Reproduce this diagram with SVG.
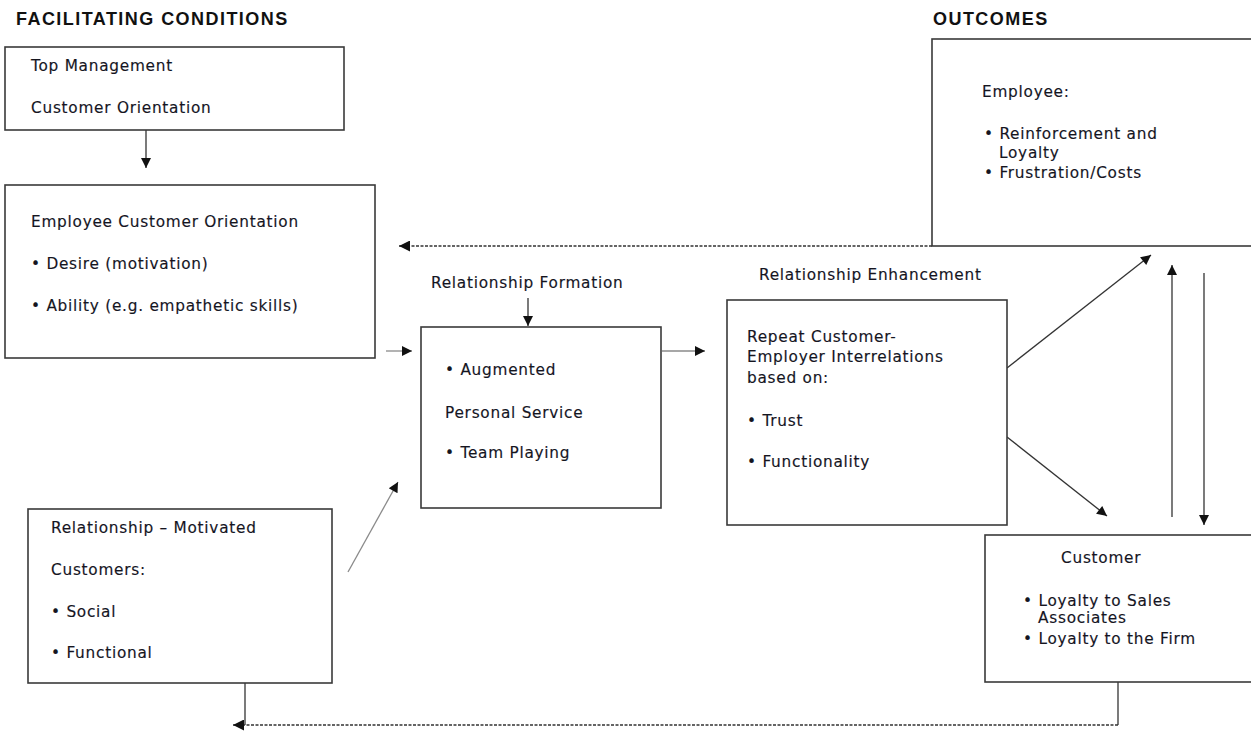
<svg xmlns="http://www.w3.org/2000/svg" width="1251" height="732" viewBox="0 0 1251 732">
  <style>
    .box { fill: #ffffff; stroke: #3a3a3a; stroke-width: 1.6; }
    .t { font-family: "DejaVu Sans", "Liberation Sans", sans-serif; font-size: 15.3px; letter-spacing: 0.75px; fill: #15151f; stroke: #15151f; stroke-width: 0.15; }
    .h { font-family: "Liberation Sans", Arial, sans-serif; font-size: 18px; font-weight: bold; letter-spacing: 1.45px; fill: #111111; }
    .ln { fill: none; stroke: #333333; stroke-width: 1.3; }
    .lg { fill: none; stroke: #8a8a8a; stroke-width: 1.3; }
    .dash { fill: none; stroke: #333333; stroke-width: 1.3; stroke-dasharray: 3 1.5; }
  </style>
  <defs>
    <marker id="head" viewBox="0 0 10 10" refX="10" refY="5" markerWidth="13" markerHeight="10" markerUnits="userSpaceOnUse" orient="auto">
      <path d="M0,0 L10,5 L0,10 Z" fill="#111111"/>
    </marker>
    <marker id="headL" viewBox="0 0 10 10" refX="10" refY="5" markerWidth="14" markerHeight="11" markerUnits="userSpaceOnUse" orient="auto">
      <path d="M0,0 L10,5 L0,10 Z" fill="#111111"/>
    </marker>
  </defs>

  <rect width="1251" height="732" fill="#ffffff"/>

  <!-- section headings -->
  <text class="h" x="16" y="25">FACILITATING CONDITIONS</text>
  <text class="h" x="933" y="25">OUTCOMES</text>

  <!-- connectors -->
  <g id="connectors">
    <line class="ln" x1="146" y1="130" x2="146" y2="168" marker-end="url(#head)"/>
    <line class="lg" x1="386" y1="351" x2="412" y2="351" marker-end="url(#head)"/>
    <line class="ln" x1="528" y1="298" x2="528" y2="326" marker-end="url(#head)"/>
    <line class="lg" x1="662" y1="351" x2="705" y2="351" marker-end="url(#head)"/>
    <line class="lg" x1="348" y1="572" x2="398" y2="482" marker-end="url(#head)"/>
    <line class="ln" x1="1007" y1="368" x2="1151" y2="255" marker-end="url(#head)"/>
    <line class="ln" x1="1007" y1="437" x2="1107" y2="516" marker-end="url(#head)"/>
    <line class="ln" x1="1172" y1="517" x2="1172" y2="265" marker-end="url(#head)"/>
    <line class="ln" x1="1204" y1="273" x2="1204" y2="525" marker-end="url(#head)"/>
    <line class="dash" x1="932" y1="246" x2="399" y2="246" marker-end="url(#headL)"/>
    <polyline class="ln" points="245,683 245,725"/>
    <polyline class="ln" points="1118,682 1118,725"/>
    <line class="dash" x1="1118" y1="725" x2="233" y2="725" marker-end="url(#headL)"/>
  </g>

  <g id="top-management">
    <rect class="box" x="5" y="47" width="339" height="83"/>
    <text class="t" x="31" y="71">Top Management</text>
    <text class="t" x="31" y="113">Customer Orientation</text>
  </g>

  <g id="employee-orientation">
    <rect class="box" x="5" y="185" width="370" height="173"/>
    <text class="t" x="31" y="227">Employee Customer Orientation</text>
    <text class="t" x="31" y="269">• Desire (motivation)</text>
    <text class="t" x="31" y="311">• Ability (e.g. empathetic skills)</text>
  </g>

  <g id="relationship-formation">
    <text class="t" x="431" y="288">Relationship Formation</text>
    <rect class="box" x="421" y="327" width="240" height="181"/>
    <text class="t" x="445" y="375">• Augmented</text>
    <text class="t" x="445" y="418">Personal Service</text>
    <text class="t" x="445" y="458">• Team Playing</text>
  </g>

  <g id="relationship-enhancement">
    <text class="t" x="759" y="280">Relationship Enhancement</text>
    <rect class="box" x="727" y="300" width="280" height="225"/>
    <text class="t" x="747" y="342">Repeat Customer-</text>
    <text class="t" x="747" y="362">Employer Interrelations</text>
    <text class="t" x="747" y="383">based on:</text>
    <text class="t" x="747" y="426">• Trust</text>
    <text class="t" x="747" y="467">• Functionality</text>
  </g>

  <g id="motivated-customers">
    <rect class="box" x="28" y="509" width="304" height="174"/>
    <text class="t" x="51" y="533">Relationship – Motivated</text>
    <text class="t" x="51" y="575">Customers:</text>
    <text class="t" x="51" y="617">• Social</text>
    <text class="t" x="51" y="658">• Functional</text>
  </g>

  <g id="employee-outcomes">
    <rect class="box" x="932" y="39" width="330" height="207"/>
    <text class="t" x="982" y="97">Employee:</text>
    <text class="t" x="984" y="139">• Reinforcement and</text>
    <text class="t" x="999" y="158">Loyalty</text>
    <text class="t" x="984" y="178">• Frustration/Costs</text>
  </g>

  <g id="customer-outcomes">
    <rect class="box" x="985" y="535" width="280" height="147"/>
    <text class="t" x="1061" y="563">Customer</text>
    <text class="t" x="1023" y="606">• Loyalty to Sales</text>
    <text class="t" x="1038" y="623">Associates</text>
    <text class="t" x="1023" y="644">• Loyalty to the Firm</text>
  </g>
</svg>
